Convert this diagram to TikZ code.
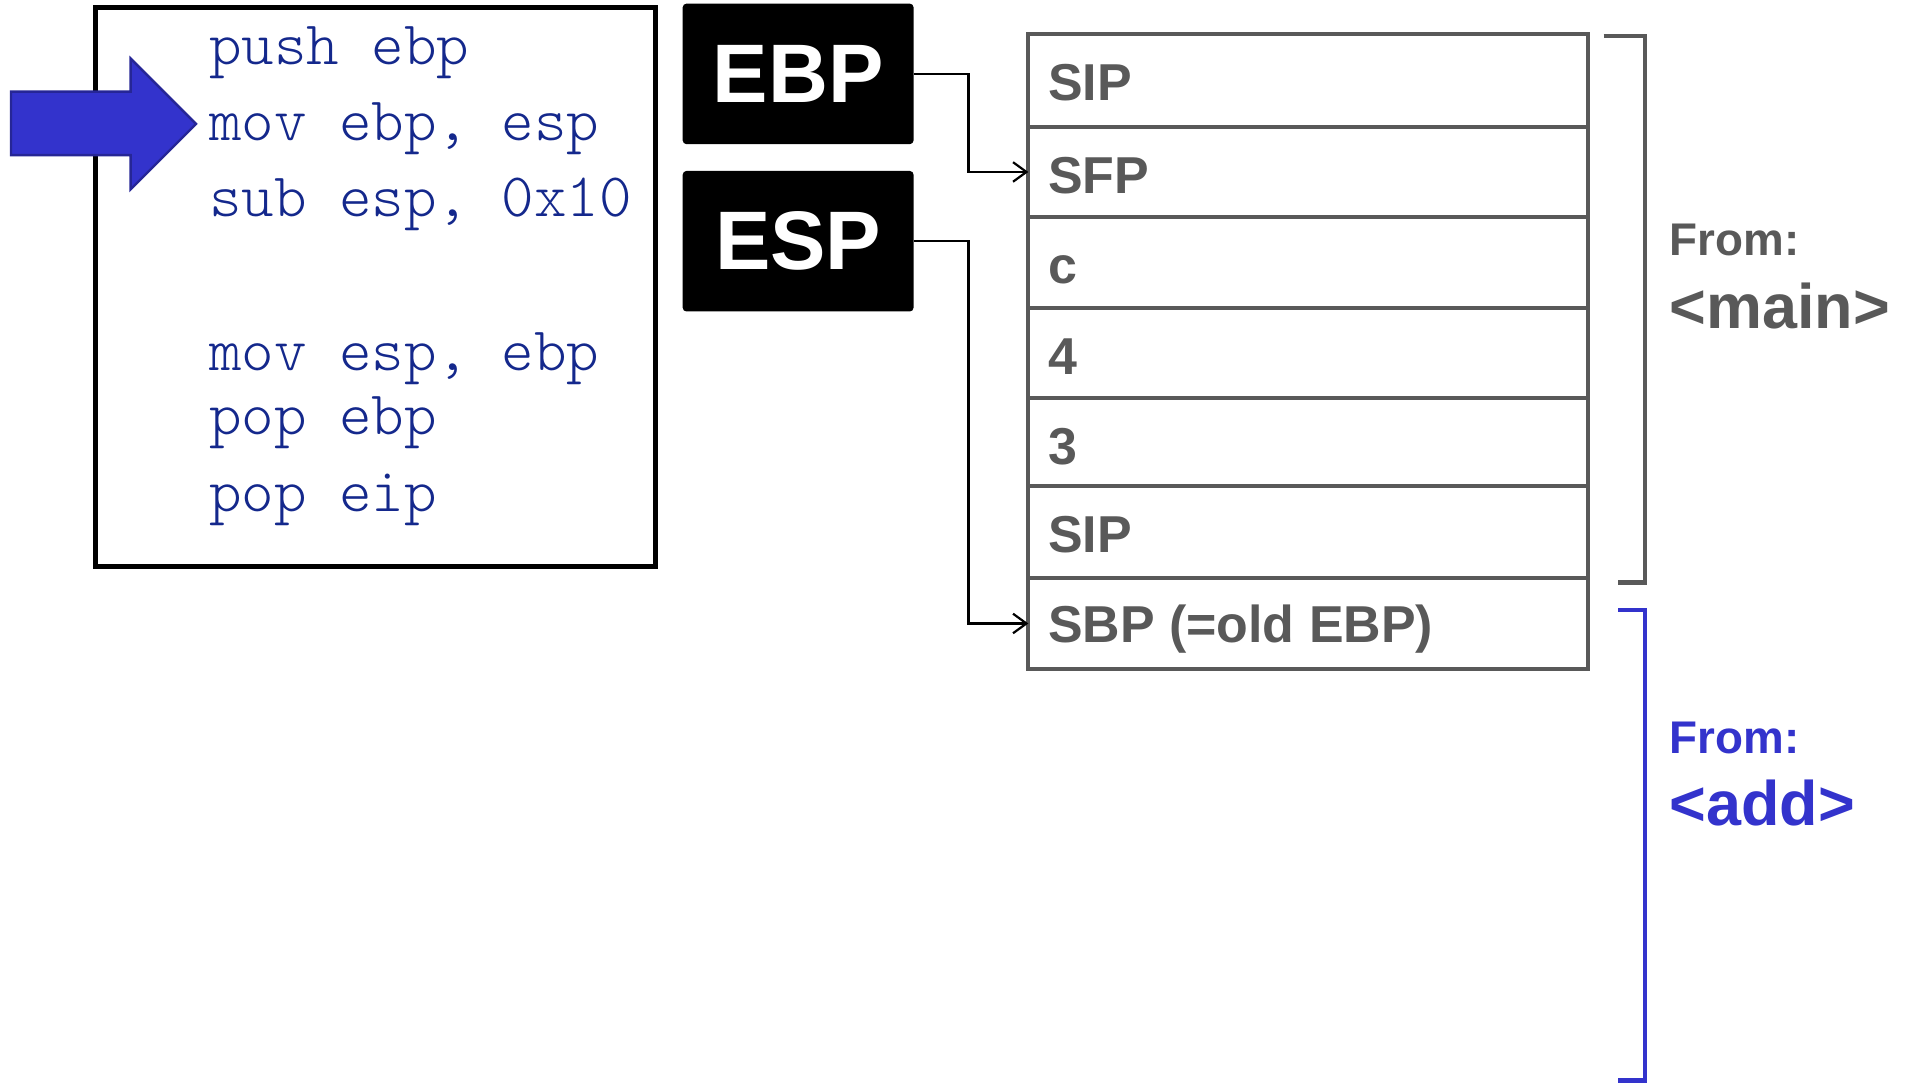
\documentclass[tikz,border=0pt]{standalone}
\usepackage{fontspec}
\setmainfont{Liberation Sans}
\newfontfamily\codefont{Latin Modern Mono Light}
\usetikzlibrary{arrows.meta,calc}

\definecolor{codeblue}{RGB}{20,40,140}
\definecolor{stackgray}{RGB}{89,89,89}
\definecolor{addblue}{RGB}{51,51,204}
\definecolor{arrowedge}{RGB}{38,38,150}

\begin{document}
\begin{tikzpicture}[x=1pt,y=-1pt,
  codeline/.style={anchor=base west,inner sep=0pt,text=codeblue,
    font=\codefont\fontsize{50.7pt}{54pt}\selectfont},
  regbox/.style={fill=black,rounded corners=3pt,minimum width=189pt,
    minimum height=115pt,inner sep=0pt,outer sep=0pt,text=white,
    font=\bfseries\fontsize{68pt}{70pt}\selectfont},
  cell/.style={draw=stackgray,line width=3.3pt,minimum width=458pt,
    inner sep=0pt,outer sep=0pt,anchor=north west},
  celltxt/.style={anchor=base west,inner sep=0pt,text=stackgray,
    font=\bfseries\fontsize{42.5pt}{46pt}\selectfont},
  conn/.style={line width=1.8pt,-{Straight Barb[length=11pt,width=16pt,line width=1.8pt]}},
  fromtxt/.style={anchor=base west,inner sep=0pt,
    font=\bfseries\fontsize{37.5pt}{40pt}\selectfont},
  fnametxt/.style={anchor=base west,inner sep=0pt,
    font=\bfseries\fontsize{51.5pt}{54pt}\selectfont},
  bracket/.style={line width=3.8pt}
]
\useasboundingbox (0,0) rectangle (1568,889);

% code listing frame
\draw[line width=4pt] (78,6) rectangle (537,464);
\node[codeline] (c1) at (171,52.8)  {push ebp};
\node[codeline] (c2) at (171,115.4) {mov ebp, esp};
\node[codeline] (c3) at (171,177.6) {sub esp, 0x10};
\node[codeline] (c4) at (171,303.6) {mov esp, ebp};
\node[codeline] (c5) at (171,355.8) {pop ebp};
\node[codeline] (c6) at (171,418.4) {pop eip};

% current-instruction pointer
\draw[fill=addblue,draw=arrowedge,line width=2pt,line join=miter]
  (9,75) -- (107,75) -- (107,48) -- (160.5,101.5) -- (107,155)
  -- (107,127) -- (9,127) -- cycle;

% registers
\node[regbox] (ebp) at (653.5,60.5) {EBP};
\node[regbox] (esp) at (653.5,197.5) {ESP};

% stack cells
\node[cell,minimum height=75.7pt] (r1) at (842,28)    {};
\node[cell,minimum height=74.2pt] (r2) at (842,103.7) {};
\node[cell,minimum height=73.9pt] (r3) at (842,177.9) {};
\node[cell,minimum height=74.2pt] (r4) at (842,251.8) {};
\node[cell,minimum height=72pt]   (r5) at (842,326)   {};
\node[cell,minimum height=75pt]   (r6) at (842,398)   {};
\node[cell,minimum height=75pt]   (r7) at (842,473)   {};

\node[celltxt] (t1) at ($(r1.north west)+(16,54.5)$) {SIP};
\node[celltxt] (t2) at ($(r2.north west)+(16,54.5)$) {SFP};
\node[celltxt] (t3) at ($(r3.north west)+(16,54.5)$) {c};
\node[celltxt] (t4) at ($(r4.north west)+(16,54.5)$) {4};
\node[celltxt] (t5) at ($(r5.north west)+(16,54.5)$) {3};
\node[celltxt] (t6) at ($(r6.north west)+(16,54.5)$) {SIP};
\node[celltxt] (t7) at ($(r7.north west)+(16,53)$)   {SBP (=old EBP)};

% register pointers
\draw[conn] (ebp.east) -- ++(45,0) |- (r2.west);
\draw[conn] (esp.east) -- ++(45,0) |- (r7.west);

% frame brackets
\draw[bracket,draw=stackgray] (1313,29.5) -- (1347,29.5) -- (1347,477) -- (1325,477);
\draw[bracket,draw=addblue] (1325,499.5) -- (1347,499.5) -- (1347,884.5) -- (1325,884.5);

\node[fromtxt,text=stackgray] (fm1) at (1367,209) {From:};
\node[fnametxt,text=stackgray] (fm2) at (1367,269) {<main>};
\node[fromtxt,text=addblue] (fa1) at (1367,616.6) {From:};
\node[fnametxt,text=addblue] (fa2) at (1367,676) {<add>};
\end{tikzpicture}
\end{document}
